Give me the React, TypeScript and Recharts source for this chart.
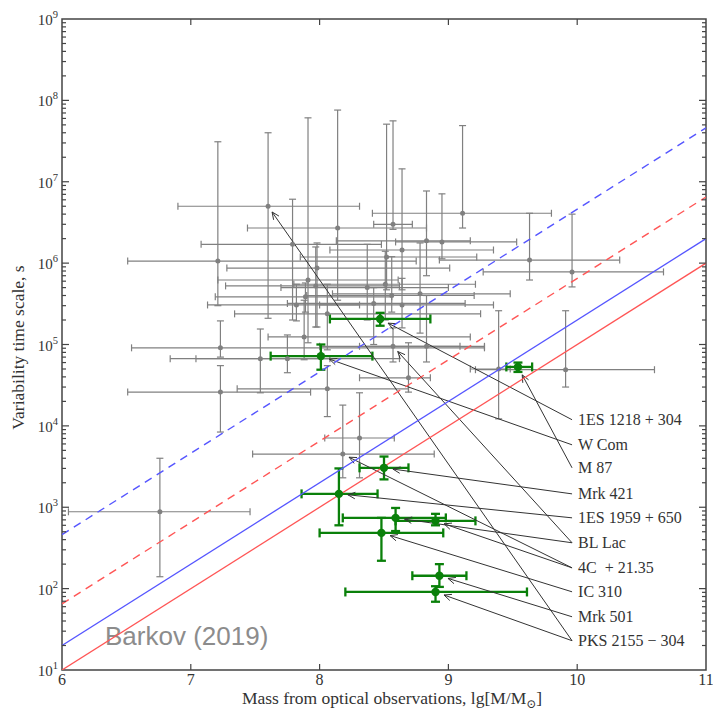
import React from 'react';
import { ScatterChart, Scatter, XAxis, YAxis, ErrorBar, ReferenceLine, ReferenceArea } from 'recharts';

// ---------------- data ----------------
const X_TICKS = [6, 7, 8, 9, 10, 11];
const Y_MAJOR = [1e1, 1e2, 1e3, 1e4, 1e5, 1e6, 1e7, 1e8, 1e9];
const Y_MINOR_MULT = [2, 3, 4, 5, 6, 7, 8, 9];

// gray sample (mass, mass range, time scale, time range)
const grayMass = [7.60, 7.21, 9.63, 9.96, 9.11, 8.57, 8.83, 8.95, 8.64, 7.79, 8.14, 7.98, 7.91, 7.97, 7.89, 7.82, 8.06, 7.88, 7.23, 7.54, 7.75, 7.23, 8.06, 8.69, 9.91, 9.39, 8.18, 8.57, 6.76, 8.31, 8.52, 8.51, 8.78, 8.37, 8.42, 8.64, 8.83, 8.56];
const grayMassLo = [6.90, 6.51, 8.93, 9.27, 8.41, 8.42, 8.13, 8.59, 8.08, 7.08, 7.44, 7.28, 7.21, 7.27, 7.19, 7.13, 7.34, 7.60, 6.54, 6.84, 7.04, 6.51, 7.36, 8.31, 9.21, 9.17, 7.48, 8.00, 6.05, 8.04, 7.85, 7.80, 8.10, 7.70, 7.75, 8.00, 8.31, 7.90];
const grayMassHi = [8.31, 8.75, 10.33, 10.67, 9.80, 8.72, 9.17, 9.53, 9.35, 8.48, 8.83, 9.01, 8.61, 8.62, 8.56, 8.31, 9.25, 9.17, 9.28, 8.62, 8.08, 7.93, 8.69, 8.86, 10.60, 9.48, 8.89, 9.09, 7.46, 8.58, 9.22, 9.21, 9.48, 9.00, 9.13, 9.35, 9.28, 9.20];
const grayTime = [5.0e6, 1.06e6, 1.09e6, 7.8e5, 4.1e6, 3.0e6, 1.88e6, 1.82e6, 1.45e6, 1.7e6, 2.7e6, 8.7e5, 6.2e5, 5.25e5, 3.85e5, 3.06e5, 2.38e5, 1.24e5, 9.1e4, 6.7e4, 6.7e4, 2.6e4, 2.85e4, 3.9e4, 4.9e4, 5.0e4, 4.5e3, 9.5e4, 880, 7.1e3, 1.19e6, 5.5e5, 4.2e5, 5.0e5, 3.2e5, 3.06e5, 9.5e4, 4.0e5];
const grayTimeLo = [2.1e5, 3.0e5, 6.2e5, 5.1e5, 2.7e6, 2.6e6, 7.0e5, 1.13e6, 4.7e5, 2.0e5, 3.5e5, 1.64e5, 1.05e5, 1.64e5, 2.5e5, 1.95e5, 8.6e4, 6.5e4, 7.0e4, 2.55e4, 4.5e4, 8.4e3, 1.3e4, 2.6e4, 3.0e4, 1.22e4, 2.3e3, 6.1e4, 140, 2.3e3, 4.7e5, 2.0e5, 1.38e5, 2.0e5, 1.0e5, 1.6e5, 6.1e4, 2.5e5];
const grayTimeHi = [4.0e7, 3.1e7, 4.1e6, 4.0e6, 4.9e7, 5.6e7, 7.7e6, 7.1e6, 1.44e7, 6.1e6, 7.6e7, 1.77e6, 6.1e7, 1.58e6, 5.7e5, 5.5e5, 5.5e5, 3.5e5, 1.95e5, 1.55e5, 1.31e5, 5.5e4, 5.5e4, 1.05e5, 2.6e5, 2.6e5, 1.8e4, 1.6e5, 4.0e3, 2.55e4, 5.1e7, 1.4e6, 1.77e6, 1.7e6, 5.0e5, 6.5e5, 4.0e5, 1.2e6];

// green sample (named sources)
const greenNames = ['1ES 1218 + 304', 'W Com', 'M 87', 'Mrk 421', '1ES 1959 + 650', 'BL Lac', '4C\u00a0 + 21.35', 'IC 310', 'Mrk 501', 'PKS 2155 \u2212 304'];
const greenMass = [8.47, 8.01, 9.54, 8.50, 8.15, 8.59, 8.90, 8.48, 8.93, 8.90];
const greenMassLo = [8.08, 7.62, 9.45, 8.31, 7.86, 8.18, 8.59, 8.00, 8.72, 8.20];
const greenMassHi = [8.86, 8.41, 9.65, 8.69, 8.45, 8.98, 9.21, 8.96, 9.14, 9.61];
const greenTime = [2.06e5, 7.2e4, 5.3e4, 3.05e3, 1.46e3, 740, 680, 484, 144, 91];
const greenTimeLo = [1.7e5, 4.9e4, 4.6e4, 2.2e3, 600, 510, 600, 220, 105, 69];
const greenTimeHi = [2.45e5, 1.0e5, 6.0e4, 4.2e3, 3.0e3, 980, 830, 740, 200, 107];

// label anchors (mass, time) on the right-hand side
const labelMass = [9.96, 9.96, 9.96, 9.96, 9.96, 9.96, 9.96, 9.96, 9.96, 9.96];
const labelTime = [1.19e4, 5.85e3, 3.05e3, 1.46e3, 741, 366, 180, 91.4, 45.1, 22.9];

// arrows: label index -> target (sample, index)
const arrowLabel = [0, 1, 2, 3, 4, 5, 5, 6, 6, 7, 8, 9, 9];
const arrowSample = ['green', 'green', 'green', 'green', 'green', 'gray', 'green', 'gray', 'green', 'green', 'green', 'gray', 'green'];
const arrowIndex = [0, 1, 2, 3, 4, 27, 5, 26, 6, 7, 8, 0, 9];

// theory lines (mass ends, time at ends)
const lineMassEnds = [6, 11];
const blueSolid = [20, 2e6];
const redSolid = [10, 1e6];
const blueDashed = [460, 4.6e7];
const redDashed = [65, 6.5e6];

const watermarkText = 'Barkov (2019)';
const watermarkPos = { m: 6.334, t: 20.4 };

// ---------------- styles ----------------
const PLOT_W = 644;
const PLOT_H = 651;
const FONT = '"Liberation Serif", "DejaVu Serif", serif';
const FRAME = '#444';
const TEXT = '#333';
const GRAY = '#808080';
const GREEN = '#0a800a';
const BLUE = '#5555ff';
const RED = '#ff5555';

// ---------------- derived tables ----------------
const Y_TICKS: number[] = [];
Y_MAJOR.forEach((v, i) => {
  Y_TICKS.push(v);
  if (i < Y_MAJOR.length - 1) Y_MINOR_MULT.forEach((k) => Y_TICKS.push(v * k));
});

const grayRows = grayMass.map((m, i) => ({
  m,
  t: grayTime[i],
  mErr: [m - grayMassLo[i], grayMassHi[i] - m],
  tErr: [grayTime[i] - grayTimeLo[i], grayTimeHi[i] - grayTime[i]],
}));
const greenRows = greenMass.map((m, i) => ({
  m,
  t: greenTime[i],
  mErr: [m - greenMassLo[i], greenMassHi[i] - m],
  tErr: [greenTime[i] - greenTimeLo[i], greenTimeHi[i] - greenTime[i]],
}));
const labelRows = greenNames.map((name, i) => ({ m: labelMass[i], t: labelTime[i], name }));
const arrows = arrowLabel.map((li, i) => {
  const isGray = arrowSample[i] === 'gray';
  const j = arrowIndex[i];
  return {
    fromM: labelMass[li],
    fromT: labelTime[li],
    toM: isGray ? grayMass[j] : greenMass[j],
    toT: isGray ? grayTime[j] : greenTime[j],
    gap: isGray ? 7 : 9,
  };
});
const mkLine = (vals: number[]) => lineMassEnds.map((m, i) => ({ m, t: vals[i] }));
const watermarkRows = [{ ...watermarkPos, text: watermarkText }];

// ---------------- renderers ----------------
function XTick(props: any) {
  const { x, y, payload } = props;
  const v = payload.value;
  const inner = v !== X_TICKS[0] && v !== X_TICKS[X_TICKS.length - 1];
  return (
    <g>
      {inner && <line x1={x} x2={x} y1={y} y2={y - 6} stroke={FRAME} strokeWidth={1.2} />}
      {inner && <line x1={x} x2={x} y1={y - PLOT_H} y2={y - PLOT_H + 6} stroke={FRAME} strokeWidth={1.2} />}
      <text x={x} y={y + 15} textAnchor="middle" fontFamily={FONT} fontSize={16} fill={TEXT}>
        {v}
      </text>
    </g>
  );
}

function YTick(props: any) {
  const { x, y, payload } = props;
  const v = payload.value;
  const lg = Math.log10(v);
  const e = Math.round(lg);
  const major = Math.abs(lg - e) < 1e-6;
  const len = major ? 7 : 4;
  const edge = v === Y_MAJOR[0] || v === Y_MAJOR[Y_MAJOR.length - 1];
  return (
    <g>
      {!edge && <line x1={x} x2={x + len} y1={y} y2={y} stroke={FRAME} strokeWidth={1.2} />}
      {!edge && <line x1={x + PLOT_W} x2={x + PLOT_W - len} y1={y} y2={y} stroke={FRAME} strokeWidth={1.2} />}
      {major && (
        <text x={x - 4} y={y + 6} textAnchor="end" fontFamily={FONT} fontSize={15} fill={TEXT}>
          10
          <tspan dy={-7} fontSize={10.5}>
            {e}
          </tspan>
        </text>
      )}
    </g>
  );
}

const GrayDot = (p: any) => <circle cx={p.cx} cy={p.cy} r={2.5} fill={GRAY} />;
const GreenDot = (p: any) => <circle cx={p.cx} cy={p.cy} r={4.2} fill={GREEN} />;
const NoDot = () => <g />;

const LabelText = (p: any) => (
  <text
    x={p.cx + 6}
    y={p.cy + 5.5}
    fontFamily={FONT}
    fontSize={16}
    fill={TEXT}
    style={{ whiteSpace: 'pre' }}
  >
    {p.payload.name}
  </text>
);

const WatermarkText = (p: any) => (
  <text x={p.cx} y={p.cy} fontFamily='"Liberation Sans", Arial, sans-serif' fontSize={26} fill="#8c8c8c">
    {p.payload.text}
  </text>
);

const makeArrow = (gap: number) => (p: any) => {
  const { x1, y1, x2, y2 } = p;
  const dx = x2 - x1;
  const dy = y2 - y1;
  const L = Math.hypot(dx, dy) || 1;
  const ux = dx / L;
  const uy = dy / L;
  const tx = x2 - ux * gap;
  const ty = y2 - uy * gap;
  const hl = 8;
  const ang = (24 * Math.PI) / 180;
  const c = Math.cos(ang);
  const s = Math.sin(ang);
  const h1x = tx - hl * (ux * c - uy * s);
  const h1y = ty - hl * (uy * c + ux * s);
  const h2x = tx - hl * (ux * c + uy * s);
  const h2y = ty - hl * (uy * c - ux * s);
  return (
    <g stroke="#333" strokeWidth={1} fill="none">
      <line x1={x1} y1={y1} x2={tx} y2={ty} />
      <polyline points={`${h1x},${h1y} ${tx},${ty} ${h2x},${h2y}`} />
    </g>
  );
};

const XTitle = (p: any) => {
  const vb = p.viewBox || { x: 62, y: 670, width: 644 };
  return (
    <text x={vb.x + vb.width / 2 + 8} y={vb.y + 34} textAnchor="middle" fontFamily={FONT} fontSize={17.5} fill={TEXT}>
      Mass from optical observations, lg[M/M
      <tspan dy={4} fontSize={12}>
        {'\u2299'}
      </tspan>
      <tspan dy={-4}>]</tspan>
    </text>
  );
};

const YTitle = (p: any) => {
  const vb = p.viewBox || { x: 0, y: 19, width: 62, height: 651 };
  const cx = 24;
  const cy = vb.y + vb.height / 2 + 3;
  return (
    <text
      x={cx}
      y={cy}
      transform={`rotate(-90, ${cx}, ${cy})`}
      textAnchor="middle"
      fontFamily={FONT}
      fontSize={17.5}
      fill={TEXT}
    >
      Variability time scale, s
    </text>
  );
};

export default function App() {
  return (
    <div style={{ position: 'absolute', left: 0, top: 0, width: 713, height: 710, background: '#fff' }}>
      <ScatterChart width={713} height={710} margin={{ top: 19, right: 7, bottom: 0, left: 0 }}>
        <XAxis
          type="number"
          dataKey="m"
          domain={[6, 11]}
          ticks={X_TICKS}
          interval={0}
          allowDataOverflow
          axisLine={false}
          tickLine={false}
          tickSize={0}
          tickMargin={0}
          height={40}
          tick={<XTick />}
          label={{ content: (p: any) => <XTitle {...p} /> }}
        />
        <YAxis
          type="number"
          dataKey="t"
          scale="log"
          domain={[10, 1e9]}
          ticks={Y_TICKS}
          interval={0}
          allowDataOverflow
          axisLine={false}
          tickLine={false}
          tickSize={0}
          tickMargin={0}
          width={62}
          tick={<YTick />}
          label={{ content: (p: any) => <YTitle {...p} /> }}
        />
        <ReferenceArea x1={6} x2={11} y1={10} y2={1e9} fill="none" fillOpacity={0} stroke={FRAME} strokeWidth={1.5} ifOverflow="visible" />

        <Scatter data={watermarkRows} shape={WatermarkText} isAnimationActive={false} />

        <Scatter data={grayRows} fill={GRAY} shape={GrayDot} isAnimationActive={false}>
          <ErrorBar dataKey="mErr" direction="x" width={3.5} stroke={GRAY} strokeWidth={1.2} isAnimationActive={false} />
          <ErrorBar dataKey="tErr" direction="y" width={3.5} stroke={GRAY} strokeWidth={1.2} isAnimationActive={false} />
        </Scatter>

        <Scatter data={mkLine(blueDashed)} fill={BLUE} line={{ stroke: BLUE, strokeWidth: 1.4, strokeDasharray: '8 6' }} shape={NoDot} isAnimationActive={false} />
        <Scatter data={mkLine(redDashed)} fill={RED} line={{ stroke: RED, strokeWidth: 1.4, strokeDasharray: '8 6' }} shape={NoDot} isAnimationActive={false} />
        <Scatter data={mkLine(blueSolid)} fill={BLUE} line={{ stroke: BLUE, strokeWidth: 1.3 }} shape={NoDot} isAnimationActive={false} />
        <Scatter data={mkLine(redSolid)} fill={RED} line={{ stroke: RED, strokeWidth: 1.3 }} shape={NoDot} isAnimationActive={false} />

        <Scatter data={greenRows} fill={GREEN} shape={GreenDot} isAnimationActive={false}>
          <ErrorBar dataKey="mErr" direction="x" width={4.5} stroke={GREEN} strokeWidth={2.3} isAnimationActive={false} />
          <ErrorBar dataKey="tErr" direction="y" width={4.5} stroke={GREEN} strokeWidth={2.3} isAnimationActive={false} />
        </Scatter>

        {arrows.map((a, i) => (
          <ReferenceLine
            key={i}
            segment={[
              { x: a.fromM, y: a.fromT },
              { x: a.toM, y: a.toT },
            ]}
            ifOverflow="visible"
            shape={makeArrow(a.gap)}
          />
        ))}

        <Scatter data={labelRows} shape={LabelText} isAnimationActive={false} />
      </ScatterChart>
    </div>
  );
}
